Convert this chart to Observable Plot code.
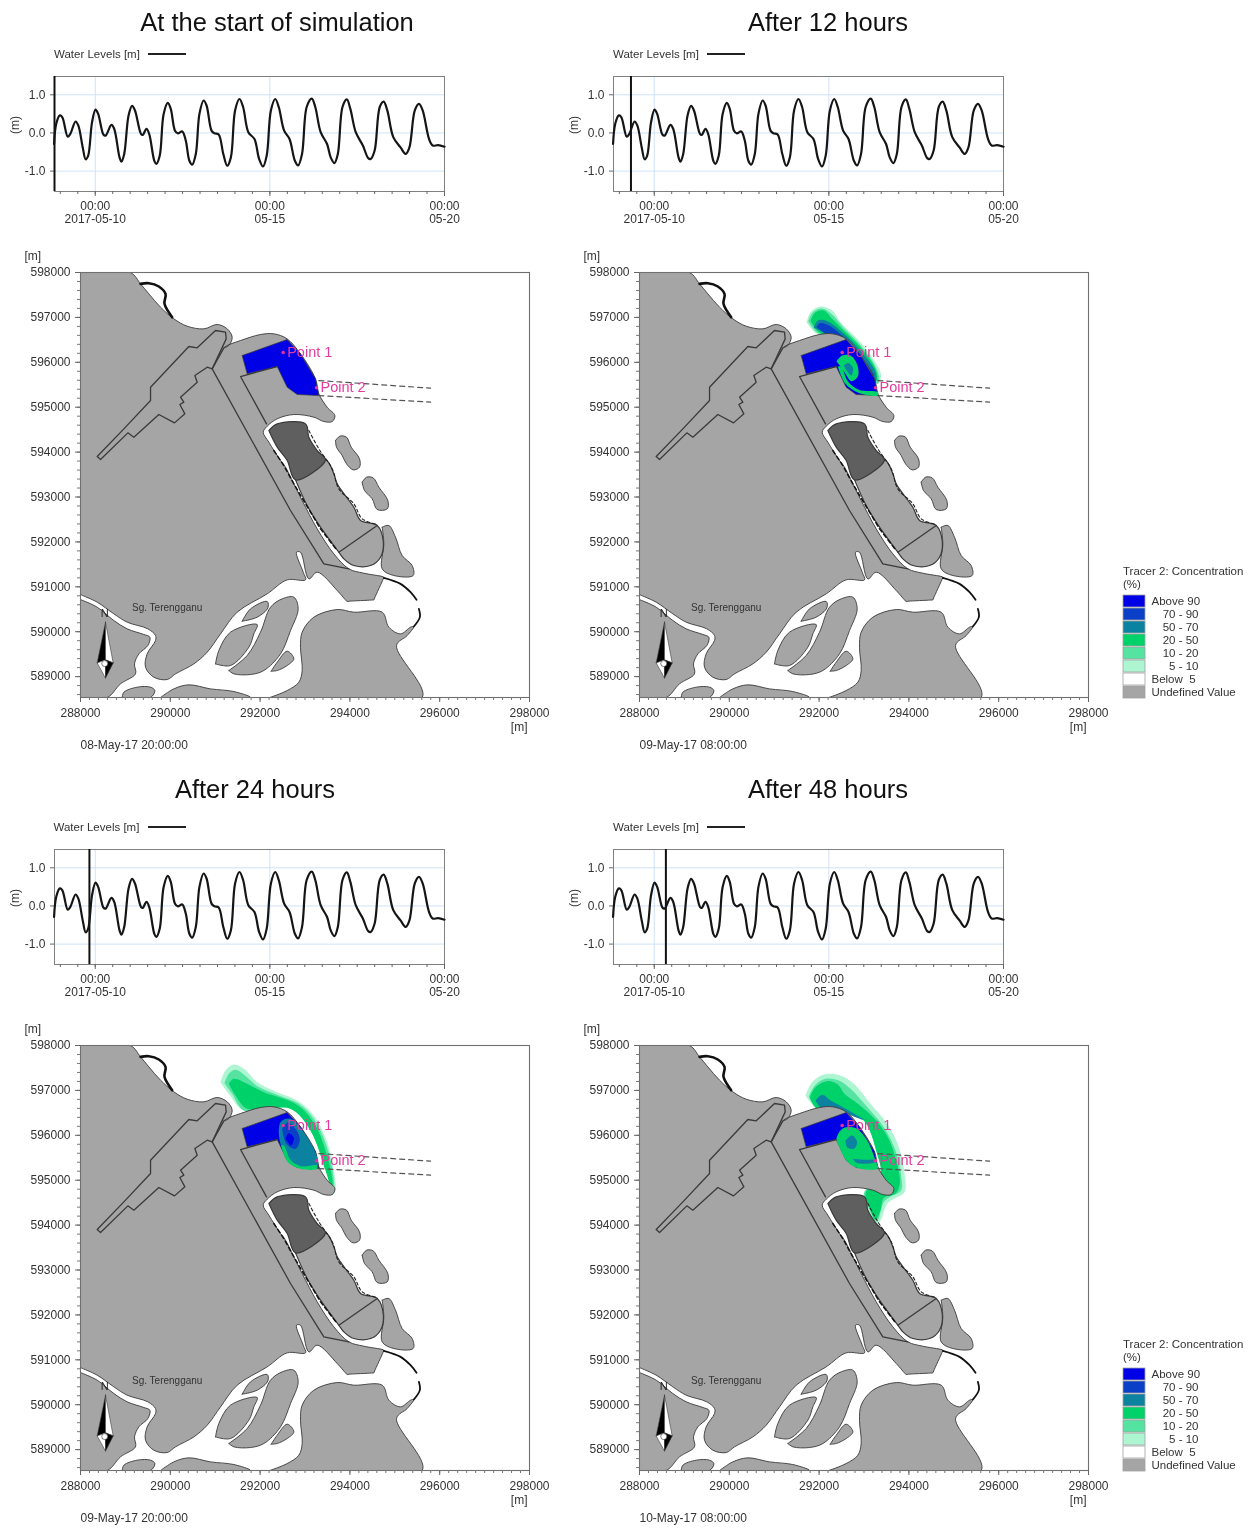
<!DOCTYPE html>
<html><head><meta charset="utf-8">
<script src="https://cdn.jsdelivr.net/npm/d3@7"></script>
<script src="https://cdn.jsdelivr.net/npm/@observablehq/plot@0.6"></script>
<style>
html,body{margin:0;padding:0;background:#fff}
#page{position:relative;width:1259px;height:1528px;overflow:hidden;font-family:"Liberation Sans",Arial,sans-serif;color:#333;filter:blur(.6px)}
#page svg{position:absolute;background:transparent;overflow:visible}
.title{position:absolute;font-size:25.5px;line-height:30px;color:#111;transform:translateX(-50%);white-space:nowrap}
.wl{position:absolute;font-size:11.5px;line-height:14px;white-space:nowrap}
.wlline{position:absolute;height:2px;width:38px;background:#222}
.lt{position:absolute;font-size:11.5px;line-height:13px;white-space:nowrap}
</style></head><body><div id="page"></div>
<script>
// ---------- water level series (hours from 2017-05-10 00:00, metres) ----------
const tideHours=[-28.3,-26.8,-24.3,-22.6,-18.9,-17.2,-13.5,-11.6,-8.6,-6.6,-4.9,-2.2,.2,2,5.7,7.1,11.1,13,16.7,18,19.9,22.9,25.3,27.3,31.5,32.7,35.2,37.1,40.6,42,44.3,47,49.9,51.9,54.8,56.8,59.8,62.2,64.7,66.6,69.1,71.6,74.5,76.5,79.9,81.9,84.8,88,90.7,93.2,96.1,99.1,101.6,105.2,109.4,112.6,115.3,117.8,120.7,123.7,126.1,129.8,133.5,137.2,139.4,142.1,145.3,148.8,151.2,154.9,159.3,161.8,164.3,166.7,169.9,172.9,175.3,179,183.9,187.6,189.3,192,195.5,198.2,200.7,204.8,209.8,213.4,215.9,219.6,222.5,225,229.4,231.9,235.6,240];
const tideLevels=[-.29,.24,.46,.41,-.1,-.03,.3,.19,-.38,-.69,-.6,.28,.61,.5,-.05,-.07,.21,.11,-.64,-.75,-.55,.46,.71,.59,-.03,-.05,.11,-.03,-.73,-.81,-.6,.5,.79,.63,.06,-.01,.04,-.2,-.73,-.83,-.55,.5,.85,.72,.06,-.01,-.04,-.55,-.86,-.64,.59,.89,.68,.02,-.16,-.68,-.88,-.6,.59,.89,.68,.06,-.16,-.73,-.85,-.55,.68,.9,.68,.02,-.29,-.64,-.79,-.55,.68,.88,.63,.02,-.33,-.66,-.68,-.46,.68,.82,.59,-.11,-.38,-.55,-.38,.59,.76,.59,-.16,-.33,-.32,-.36];
const tideTickLabels=["00:00\n2017-05-10","00:00\n05-15","00:00\n05-20"];
const tideTickHours=[0,120,240];
const tideGridLevels=[-1,0,1];

// ---------- map geometry, in map metres ----------
const landWest=[[288000,598000],[289110,598000],[289337,597747],[289522,597525],[289782,597228],[290079,596968],[290376,596804],[290747,596745],[291044,596842],[291267,596745],[291378,596559],[291304,596374],[291193,596322],[291267,596374],[291564,596485],[292009,596619],[292306,596634],[292602,596522],[292900,596188],[293234,595631],[293309,595297],[293494,595000],[293665,594815],[293606,594681],[293420,594681],[293197,594778],[292752,594837],[292381,594741],[292158,594577],[292069,594444],[292195,594221],[292455,593813],[292566,593664],[292752,593293],[292937,592922],[293272,592291],[293643,591734],[293977,591400],[294300,591305],[294740,591225],[294756,591214],[294740,591170],[294550,590750],[294534,590710],[294480,590705],[293990,590680],[293939,590673],[293900,590710],[293717,590918],[293272,591326],[293086,591177],[292900,591771],[292811,591771],[292960,591326],[293012,591155],[292603,591155],[292158,590843],[291490,590435],[291119,589952],[290822,589544],[290525,589284],[290116,589062],[289931,588935],[289634,588987],[289448,589210],[289485,589507],[289671,589804],[289671,589915],[289500,590064],[289040,590212],[288743,590398],[288372,590658],[288015,590821],[288000,590830]];
const landSW=[[288000,590716],[288015,590710],[288372,590546],[288743,590249],[289040,590064],[289411,589938],[289545,589878],[289500,589693],[289300,589507],[289203,589284],[289225,589062],[288891,588839],[288594,588535],[288000,588535]];
const landSE=[[292217,588535],[292603,588690],[292863,588876],[292937,589136],[292900,589655],[292937,589990],[293197,590324],[293717,590494],[294088,590435],[294719,590435],[294868,590101],[295128,589952],[295351,590101],[295425,590116],[295276,589915],[295039,589693],[295610,588535]];
const isleBottom1=[[288928,588535],[288966,588653],[289263,588765],[289559,588765],[289656,588690],[289559,588535]];
const isleBottom2=[[289782,588535],[290079,588727],[290413,588817],[290896,588727],[291415,588668],[291787,588535]];
const isleA=[[291601,590234],[291787,590509],[292158,590673],[292173,590531],[291935,590324]];
const isleB=[[291007,589284],[291081,589581],[291341,589990],[291935,590160],[291861,589952],[291749,589655],[291341,589247]];
const isleC=[[291304,589136],[291712,589470],[292009,589990],[292232,590546],[292492,590732],[292752,590769],[292848,590509],[292678,590027],[292455,589507],[292084,589136],[291787,589047],[291416,589062]];
const isleD=[[292247,589121],[292381,589321],[292603,589566],[292752,589396],[292603,589247],[292381,589136]];
const isleE=[[294719,592328],[294868,592365],[295016,592105],[295164,591697],[295387,591474],[295409,591252],[294979,591252],[294719,591400],[294756,591957]];
const isleG=[[293680,594258],[293776,594355],[293925,594332],[294029,594110],[294214,593850],[294214,593664],[294073,593605],[293925,593738],[293828,593924],[293702,594110]];
const isleH=[[294274,593330],[294370,593441],[294519,593426],[294645,593219],[294845,592922],[294831,592736],[294608,592721],[294497,592959],[294326,593144]];
const portBlock=[[292789,593382],[293457,593827],[293643,593516],[293717,593293],[294088,592773],[294237,592477],[294608,592365],[294741,592031],[294682,591660],[294460,591474],[294088,591474],[293866,591623],[293754,591771],[293346,592328],[293049,592810]];
const portDivider=[[293754,591771],[294608,592365]];
const darkBlock=[[292195,594481],[292381,594629],[293012,594629],[293086,594332],[293272,594035],[293457,593827],[292789,593382],[292603,593813],[292381,594110]];
const finger=[[288446,593835],[288372,593902],[288966,594518],[289560,595149],[289560,595446],[290413,596352],[290599,596322],[291007,596708],[291230,596671],[291245,596522],[290933,595854],[290822,595891],[290547,595706],[290599,595557],[290228,595223],[290302,595112],[290213,595060],[290324,594852],[290094,594651],[289745,594837],[289188,594332],[289055,594429]];
const basin=[[291601,596151],[292603,596508],[292900,596188],[293234,595631],[293309,595260],[292826,595283],[292603,595446],[292381,595906],[291712,595743]];
const roadLine=[[291193,596322],[290933,595854],[292677,592699],[293420,591511],[293977,591400]];
const basinEdge=[[292381,595906],[291564,595683],[292143,594629]];
const northWall=[[289337,597747],[289522,597762],[289745,597688],[289894,597525],[289871,597302],[290042,597005]];
const southWall1=[[294756,591200],[295128,591066],[295351,590880],[295484,590710]];
const southWall2=[[295536,590509],[295558,590324],[295425,590116]];
const dashN=[[293309,595594],[295796,595424]];
const dashS=[[293309,595260],[295796,595112]];
const dashEast=[[293086,594481],[293309,594073],[293606,593627],[293754,593182],[294088,592848],[294274,592514],[294608,592387]];
const channelBank=[[292306,594035],[292529,593701],[292752,593293],[293012,592848],[293346,592291],[293717,591808]];
const arrowBlackA=[[288557,590212],[288372,589306],[288557,589373]];
const arrowWhiteA=[[288557,590212],[288728,589306],[288557,589373]];
const arrowWhiteB=[[288372,589306],[288557,589373],[288557,588965]];
const arrowBlackB=[[288728,589306],[288557,589373],[288557,588965]];
const stations=[{x:292514,y:596218,name:"Point 1"},{x:293256,y:595432,name:"Point 2"}];

// ---------- concentration bands ----------
const legendLabels=["Above 90","70 - 90","50 - 70","20 - 50","10 - 20","5 - 10","Below  5","Undefined Value"];
const legendColors=["#0000e6","#0a3fc8","#0b82a0","#00d26a","#55e3a2","#aef6d2","#ffffff","#a5a5a5"];
const [c90,c70,c50,c20,c10,c5]=legendColors;

const b5=[[291720,596894],[291809,597116],[292031,597243],[292291,597154],[292477,596894],[292848,596522],[293182,596114],[293383,595706],[293308,595520],[292922,596114],[292477,596560],[291957,596634]];
const b10=[[291757,596916],[291861,597116],[292068,597198],[292291,597064],[292536,596782],[292885,596426],[293219,595981],[293338,595654],[293308,595520],[292922,596114],[292477,596522],[291972,596649]];
const b20=[[291809,596931],[291920,597116],[292106,597154],[292291,596968],[292588,596671],[292922,596337],[293256,595854],[293293,595595],[292922,596114],[292477,596485],[291994,596671]];
const b50=[[291883,596768],[291972,596931],[292180,596916],[292514,596671],[292885,596300],[293256,595780],[293256,595557],[292848,596077],[292403,596485]];
const b70=[[291942,596782],[292016,596871],[292180,596842],[292492,596612],[292848,596226],[293204,595743],[293219,595595],[292811,596077],[292388,596448]];
const bBlob=[[292388,596025],[292514,596151],[292699,596151],[292848,595951],[292863,595684],[292714,595580],[292588,595743],[292477,595906]];
const bCore=[[292551,595929],[292662,595981],[292759,595854],[292714,595706],[292610,595817]];
const bRim=[[292417,595906],[292588,595520],[292848,595335],[293308,595260],[293308,595335],[292885,595387],[292640,595580],[292491,595906]];

const c5o=[[291117,597184],[291229,597444],[291414,597577],[291637,597481],[291934,597184],[292380,596961],[292825,596775],[293196,596441],[293493,595847],[293642,595216],[293679,594771],[293605,594660],[293493,595142],[293122,596107],[292676,596590],[291637,596553],[291303,596924]];
const c10o=[[291207,597161],[291303,597369],[291452,597458],[291637,597354],[291949,597087],[292417,596887],[292862,596701],[293211,596345],[293478,595773],[293627,595142],[293642,594734],[293493,595142],[293122,596107],[292676,596590],[291637,596553],[291377,596924]];
const c20o=[[291303,597147],[291414,597258],[291711,597147],[292083,596961],[292528,596812],[292899,596627],[293233,596219],[293456,595662],[293604,595068],[293619,594734],[293456,595216],[293122,596107],[292676,596590],[291711,596590],[291452,596887]];
const cTeal=[[292417,596033],[292454,596293],[292676,596367],[293048,595959],[293270,595513],[293285,595328],[292899,595291],[292602,595476],[292454,595810]];
const cMid=[[292491,596144],[292617,596293],[292788,596144],[292884,595899],[292788,595699],[292587,595810]];
const cCore=[[292565,595922],[292639,596048],[292751,595944],[292691,595773]];
const cRim=[[292469,595773],[292617,595402],[292899,595254],[293270,595254],[293270,595328],[292899,595313],[292676,595454],[292528,595773]];

const d5=[[291697,596886],[291845,597183],[292105,597354],[292476,597332],[292773,597146],[293144,596701],[293516,596255],[293776,595736],[293902,595142],[293902,594734],[293664,594585],[293516,594474],[293367,594102],[293256,593991],[293107,594325],[292996,594696],[293367,595142],[293293,595587],[292996,596330],[292551,596515],[291957,596590]];
const d10=[[291771,596864],[291905,597109],[292142,597258],[292439,597221],[292699,597035],[293085,596612],[293441,596181],[293701,595662],[293827,595105],[293827,594771],[293590,594637],[293441,594511],[293308,594117],[293256,594102],[293130,594325],[292996,594696],[293367,595142],[293293,595587],[292996,596330],[292551,596515],[291957,596590]];
const d20=[[291793,596849],[291920,597072],[292179,597206],[292417,597131],[292565,596924],[292862,596701],[293234,596367],[293531,595958],[293716,595439],[293798,594919],[293701,594696],[293441,594607],[293367,594325],[293256,594117],[293144,594325],[293033,594696],[293367,595142],[293293,595587],[292996,596330],[292551,596515],[291957,596590]];
const d50=[[291920,596775],[292068,596901],[292254,596775],[292662,596552],[292996,596344],[292551,596493],[292105,596552]];
const dBlob=[[292381,595906],[292430,596040],[292551,596160],[292810,596160],[293070,595884],[293256,595439],[293309,595260],[292826,595283],[292603,595446]];
const dCore=[[292588,595884],[292736,595996],[292848,595847],[292773,595699],[292625,595736]];
const dRim=[[292758,595476],[292996,595454],[293219,595454],[293234,595402],[292996,595364],[292810,595402]];

const panels=[
 {title:"At the start of simulation",titleX:277,left:0,top:0,stamp:"08-May-17 20:00:00",marker:-28,legend:false,sea:[],pond:[]},
 {title:"After 12 hours",titleX:828,left:559,top:0,stamp:"09-May-17 08:00:00",marker:-16,legend:true,
  sea:[[b5,c5],[b10,c10],[b20,c20],[b50,c50],[b70,c70]],pond:[[bBlob,c20],[bCore,c50],[bRim,c20]]},
 {title:"After 24 hours",titleX:255,left:-0.5,top:773,stamp:"09-May-17 20:00:00",marker:-4,legend:false,
  sea:[[c5o,c5],[c10o,c10],[c20o,c20]],pond:[[cTeal,c50],[cMid,c70],[cCore,c90],[cRim,c20]]},
 {title:"After 48 hours",titleX:828,left:559,top:773,stamp:"10-May-17 08:00:00",marker:8,legend:true,
  sea:[[d5,c5],[d10,c10],[d20,c20],[d50,c50]],pond:[[dBlob,c20],[dCore,c50],[dRim,c50]]}
];

// ---------- drawing ----------
const page=document.getElementById("page");
const font={fontFamily:"'Liberation Sans',Arial,sans-serif",fontSize:"12px",color:"#333",background:"transparent"};
const GRAY="#a5a5a5",EDGE="#3a3a3a";
const utc=h=>new Date(Date.UTC(2017,4,10)+h*3600e3);
const tideRows=tideHours.map((h,i)=>({t:utc(h),v:tideLevels[i]}));
const tideTicks=tideTickHours.map(utc);
const tideMinor=d3.range(-24,241,12).map(utc);
const px=d=>d[0],py=d=>d[1];
function shape(pts,fill,o={}){
  return Plot.line([...pts,pts[0]],{x:px,y:py,fill,stroke:o.stroke??EDGE,strokeWidth:o.w??0.9,curve:o.curve??"catmull-rom",clip:true});
}
function path(pts,o={}){
  return Plot.line(pts,{x:px,y:py,stroke:o.stroke??EDGE,strokeWidth:o.w??1.3,strokeDasharray:o.dash,curve:o.curve??"linear",clip:true});
}
function put(svg,left,top){svg.style.left=left+"px";svg.style.top=top+"px";page.appendChild(svg);}
function addDiv(cls,text,left,top){const e=document.createElement("div");e.className=cls;e.textContent=text;e.style.left=left+"px";e.style.top=top+"px";page.appendChild(e);return e;}

function tidePlot(p){
  return Plot.plot({width:480,height:240,marginLeft:54,marginRight:36,marginTop:76,marginBottom:49,style:font,
    x:{type:"utc",domain:[utc(-28),utc(240)]},y:{domain:[-1.535,1.48]},
    marks:[
      Plot.gridY(tideGridLevels,{stroke:"#cfe2f8",strokeOpacity:1}),
      Plot.gridX(tideTicks,{stroke:"#cfe2f8",strokeOpacity:1}),
      Plot.frame({stroke:"#808080"}),
      Plot.axisX({ticks:tideMinor,tickSize:3,text:null,label:null,stroke:"#666"}),
      Plot.axisX({ticks:tideTicks,tickSize:5,tickPadding:4,lineHeight:1.1,label:null,stroke:"#666",
        tickFormat:d=>tideTickLabels[tideTicks.findIndex(t=>+t===+d)]}),
      Plot.axisY({ticks:tideGridLevels,tickSize:4,tickPadding:5,label:null,stroke:"#666",tickFormat:d=>d.toFixed(1)}),
      Plot.text(["(m)"],{frameAnchor:"left",rotate:-90,dx:-39,text:d=>d,fontSize:12}),
      Plot.ruleX([utc(p.marker)],{stroke:"#111",strokeWidth:2}),
      Plot.line(tideRows,{x:"t",y:"v",stroke:"#151515",strokeWidth:2.2,curve:"catmull-rom"})
    ]});
}

function mapPlot(p){
  const marks=[];
  for(const [pts,col] of p.sea) marks.push(shape(pts,col,{stroke:"none"}));
  for(const poly of [landWest,landSW,landSE,isleBottom1,isleBottom2,isleA,isleB,isleC,isleD,isleE,isleG,isleH]) marks.push(shape(poly,GRAY));
  marks.push(shape(portBlock,GRAY,{w:1.2}));
  marks.push(shape(darkBlock,"#5f5f5f",{w:1.2}));
  marks.push(shape(finger,GRAY,{curve:"linear",w:1.3}));
  marks.push(shape(basin,c90,{curve:"linear",w:0.7}));
  for(const [pts,col] of p.pond) marks.push(shape(pts,col,{stroke:"none"}));
  marks.push(path(roadLine),path(basinEdge),path(portDivider));
  marks.push(path(northWall,{w:2.6,stroke:"#111",curve:"catmull-rom"}));
  marks.push(path(southWall1,{w:1.8,stroke:"#111",curve:"catmull-rom"}),path(southWall2,{w:1.8,stroke:"#111",curve:"catmull-rom"}));
  marks.push(path(dashN,{dash:"5,4",stroke:"#555",w:1.2}),path(dashS,{dash:"5,4",stroke:"#555",w:1.2}));
  marks.push(path(dashEast,{dash:"3,2.5",stroke:"#222",w:1.1,curve:"catmull-rom"}));
  marks.push(path(channelBank,{dash:"4,3",stroke:"#111",w:1.5}));
  marks.push(shape(arrowBlackA,"#000",{curve:"linear",w:.6}),shape(arrowWhiteA,"#fff",{curve:"linear",w:.6}),shape(arrowWhiteB,"#fff",{curve:"linear",w:.6}),shape(arrowBlackB,"#000",{curve:"linear",w:.6}));
  marks.push(Plot.dot([[288540,589290]],{x:px,y:py,r:3,fill:"#fff",stroke:"#333",strokeWidth:.6}));
  marks.push(Plot.text(["N"],{x:288540,y:590400,text:d=>d,fontSize:11,fill:"#222"}));
  marks.push(Plot.text(["Sg. Terengganu"],{x:289931,y:590531,text:d=>d,fontSize:10,fill:"#333"}));
  marks.push(Plot.dot(stations,{x:"x",y:"y",r:1.8,fill:"#e8309c"}));
  marks.push(Plot.text(stations,{x:"x",y:"y",text:"name",dx:4,textAnchor:"start",fontSize:14.5,fill:"#e23d9e"}));
  marks.push(Plot.frame({stroke:"#707070",strokeWidth:1.1}));
  marks.push(Plot.axisX({ticks:d3.range(288000,298001,200),tickSize:3,text:null,label:null,stroke:"#777"}));
  marks.push(Plot.axisY({ticks:d3.range(588600,598001,200),tickSize:3,text:null,label:null,stroke:"#777"}));
  marks.push(Plot.axisX({ticks:d3.range(288000,298001,2000),tickSize:5,tickPadding:6,label:null,stroke:"#666",tickFormat:d=>String(d)}));
  marks.push(Plot.axisY({ticks:d3.range(589000,598001,1000),tickSize:5,tickPadding:5,label:null,stroke:"#666",tickFormat:d=>String(d)}));
  marks.push(Plot.text(["[m]"],{frameAnchor:"top-left",dx:-56,dy:-21,text:d=>d,fontSize:12}));
  marks.push(Plot.text(["[m]"],{frameAnchor:"bottom-right",dx:-2,dy:33,text:d=>d,fontSize:12}));
  marks.push(Plot.text([p.stamp],{frameAnchor:"bottom-left",dy:51,text:d=>d,fontSize:12}));
  return Plot.plot({width:560,height:520,marginLeft:80,marginRight:31,marginTop:32,marginBottom:63,style:font,
    x:{domain:[288000,298000]},y:{domain:[588535,598000]},marks});
}

function legendPlot(){
  const rows=legendLabels.map((label,i)=>({label,color:legendColors[i],wide:i===0||i>=6}));
  return Plot.plot({width:125,height:106,margin:0,style:{...font,fontSize:"11.5px"},
    x:{domain:[0,125],axis:null},y:{type:"band",domain:legendLabels,padding:.04,axis:null},
    marks:[
      Plot.barX(rows,{x1:()=>1,x2:()=>23,y:"label",fill:"color",stroke:"#a0a0a0",strokeWidth:.8}),
      Plot.text(rows.filter(d=>d.wide),{x:()=>29,y:"label",text:"label",textAnchor:"start"}),
      Plot.text(rows.filter(d=>!d.wide),{x:()=>76,y:"label",text:"label",textAnchor:"end"})
    ]});
}

for(const p of panels){
  addDiv("title",p.title,p.titleX,p.top+(p.top?1:7));
  addDiv("wl","Water Levels [m]",p.left+54,p.top+47);
  addDiv("wlline","",p.left+148,p.top+53);
  put(tidePlot(p),p.left,p.top);
  put(mapPlot(p),p.left,p.top+240);
  if(p.legend){
    addDiv("lt","Tracer 2: Concentration",1123,p.top+565);
    addDiv("lt","(%)",1123,p.top+578);
    put(legendPlot(),1122,p.top+594);
  }
}
</script></body></html>
